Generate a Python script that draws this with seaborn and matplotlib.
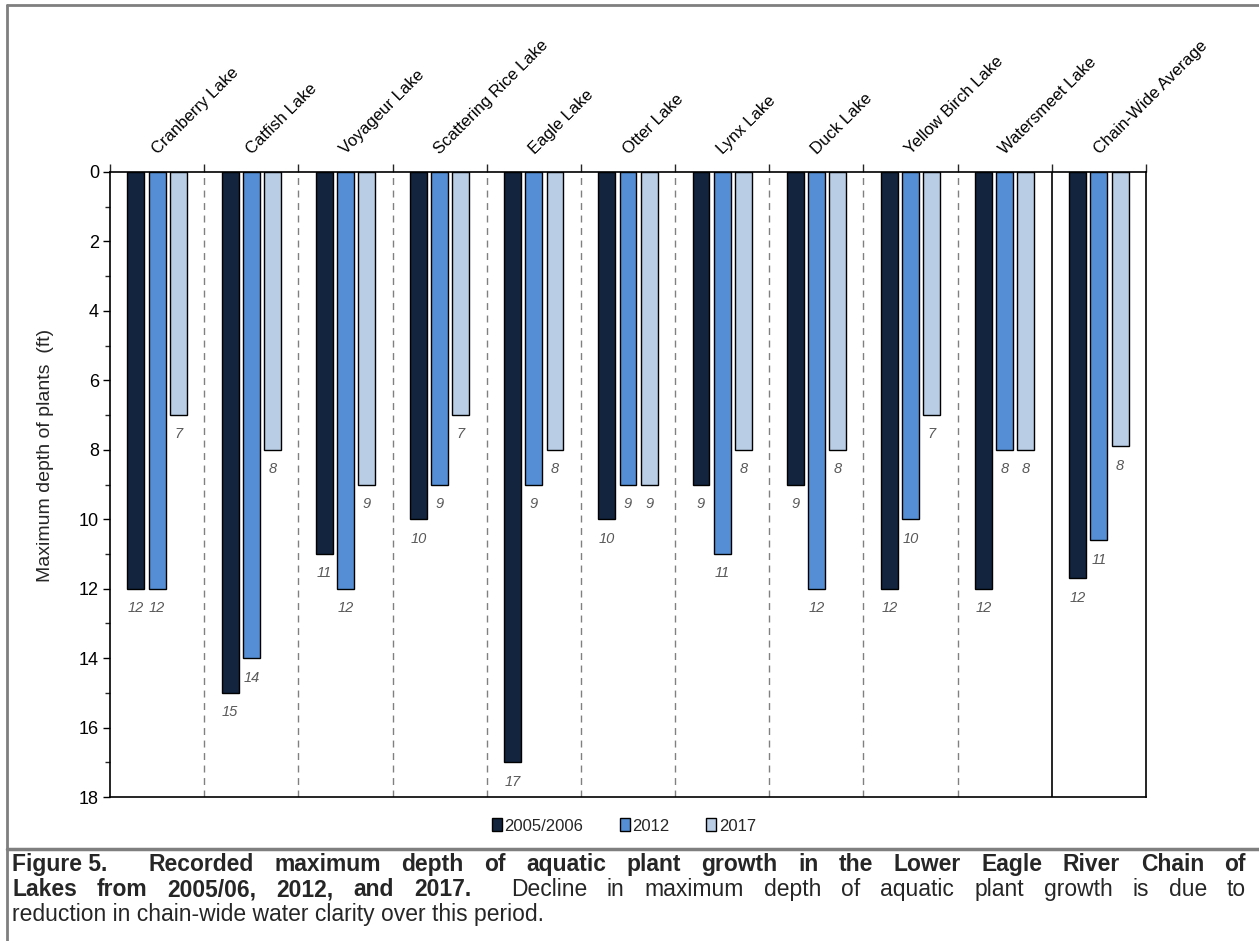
import matplotlib
matplotlib.use("Agg")
import matplotlib.pyplot as plt
import matplotlib.patches as mpatches
from matplotlib.lines import Line2D
from matplotlib.ticker import MultipleLocator, FixedLocator
import seaborn as sns
import pandas as pd

# ---------------- data ----------------
lakes = ["Cranberry Lake", "Catfish Lake", "Voyageur Lake", "Scattering Rice Lake",
         "Eagle Lake", "Otter Lake", "Lynx Lake", "Duck Lake", "Yellow Birch Lake",
         "Watersmeet Lake", "Chain-Wide Average"]
years = ["2005/2006", "2012", "2017"]
depth_2005 = [12, 15, 11, 10, 17, 10, 9, 9, 12, 12, 11.7]
depth_2012 = [12, 14, 12, 9, 9, 9, 11, 12, 10, 8, 10.6]
depth_2017 = [7, 8, 9, 7, 8, 9, 8, 8, 7, 8, 7.9]
colors = ["#12243E", "#558ED5", "#B9CDE5"]

y_ticks = [0, 2, 4, 6, 8, 10, 12, 14, 16, 18]
y_label = "Maximum depth of plants  (ft)"
cap_line1 = [("Figure 5.", "bold"), ("", "bold"), ("Recorded", "bold"), ("maximum", "bold"),
             ("depth", "bold"), ("of", "bold"), ("aquatic", "bold"), ("plant", "bold"),
             ("growth", "bold"), ("in", "bold"), ("the", "bold"), ("Lower", "bold"),
             ("Eagle", "bold"), ("River", "bold"), ("Chain", "bold"), ("of", "bold")]
cap_line2 = [("Lakes", "bold"), ("from", "bold"), ("2005/06,", "bold"), ("2012,", "bold"),
             ("and", "bold"), ("2017.", "bold"), ("", "normal"), ("Decline", "normal"),
             ("in", "normal"), ("maximum", "normal"), ("depth", "normal"), ("of", "normal"),
             ("aquatic", "normal"), ("plant", "normal"), ("growth", "normal"),
             ("is", "normal"), ("due", "normal"), ("to", "normal")]
cap_line3 = "reduction in chain-wide water clarity over this period."

df = pd.DataFrame({
    "lake": lakes * 3,
    "year": [years[0]] * len(lakes) + [years[1]] * len(lakes) + [years[2]] * len(lakes),
    "depth": depth_2005 + depth_2012 + depth_2017,
})

# ---------------- figure ----------------
sns.set_style("white")
plt.rcParams["font.family"] = ["Liberation Sans", "DejaVu Sans"]

W, H = 1259, 941
fig = plt.figure(figsize=(W / 100, H / 100), dpi=100)
ax = fig.add_axes([110 / W, 1 - 797 / H, (1146 - 110) / W, (797 - 172) / H])

sns.barplot(data=df, x="lake", y="depth", hue="year", hue_order=years, order=lakes,
            palette=colors, width=0.675, gap=0.2, edgecolor="black", linewidth=1,
            saturation=1, legend=False, ax=ax)

ax.set_xlim(-0.5, len(lakes) - 0.5)
ax.set_ylim(18, 0)
ax.set_xlabel("")
ax.set_ylabel("")

# y axis ticks
ax.yaxis.set_major_locator(FixedLocator(y_ticks))
ax.yaxis.set_minor_locator(MultipleLocator(1))
ax.tick_params(axis="y", which="major", direction="out", length=5, width=1,
               labelsize=13, pad=3, left=True, colors="black")
ax.tick_params(axis="y", which="minor", direction="out", length=3.5, width=1, left=True)

# x axis: boundary ticks on top, no labels
ax.xaxis.set_major_locator(FixedLocator([i - 0.5 for i in range(len(lakes) + 1)]))
ax.tick_params(axis="x", which="major", top=True, bottom=False, labeltop=False,
               labelbottom=False, direction="out", length=6, width=1)
for s in ax.spines.values():
    s.set_visible(True)
    s.set_color("black")
    s.set_linewidth(1.2)

# separators
for i in range(len(lakes) - 1):
    xb = i + 0.5
    if i == len(lakes) - 2:
        ax.axvline(xb, color="black", lw=1.2, zorder=0.5)
    else:
        ax.axvline(xb, color="#808080", lw=1, ls=(0, (5, 4)), zorder=0.5)

# category labels on top
for i, name in enumerate(lakes):
    ax.annotate(name, xy=(i, 1), xycoords=("data", "axes fraction"),
                xytext=(2, 11), textcoords="offset points",
                rotation=45, ha="left", va="bottom", rotation_mode="anchor",
                fontsize=12, color="black")

# value labels
for cont in ax.containers:
    for bar in cont:
        v = bar.get_height()
        xc = bar.get_x() + bar.get_width() / 2
        ax.annotate(f"{v:.0f}", xy=(xc, v), xytext=(0, -14), textcoords="offset points",
                    ha="center", va="center", fontsize=10.5, style="italic", color="#595959")

# y label
fig.text(45 / W, 1 - 455 / H, y_label, rotation=90, ha="center", va="center", fontsize=14)

# legend
handles = [mpatches.Patch(facecolor=c, edgecolor="black", linewidth=1) for c in colors]
fig.legend(handles, years, loc="center", bbox_to_anchor=(624 / W, 1 - 826 / H), ncol=3,
           frameon=False, fontsize=12, handlelength=0.6, handleheight=0.8,
           handletextpad=0.15, columnspacing=2.2)

# border lines
fig.add_artist(Line2D([7 / W, 7 / W], [0, 1 - 5 / H], transform=fig.transFigure,
                      color="#7f7f7f", lw=2))
fig.add_artist(Line2D([7 / W, 1], [1 - 5 / H, 1 - 5 / H], transform=fig.transFigure,
                      color="#7f7f7f", lw=2))
fig.add_artist(Line2D([7 / W, 1], [1 - 849 / H, 1 - 849 / H], transform=fig.transFigure,
                      color="#7f7f7f", lw=2.5))

# caption (justified)
CAP_FS = 16.5
renderer = fig.canvas.get_renderer()


def text_w(s, weight):
    t = fig.text(0, 0, s, fontsize=CAP_FS, fontweight=weight)
    w = t.get_window_extent(renderer=renderer).width
    t.remove()
    return w


def justify(tokens, y_px, x0=12, x1=1246):
    widths = [text_w(w, wt) if w else 0 for w, wt in tokens]
    gap = (x1 - x0 - sum(widths)) / (len(tokens) - 1)
    x = x0
    for (w, wt), wd in zip(tokens, widths):
        if w:
            fig.text(x / W, 1 - y_px / H, w, fontsize=CAP_FS, fontweight=wt,
                     ha="left", va="baseline")
        x += wd + gap


justify(cap_line1, 871)
justify(cap_line2, 896)
fig.text(12 / W, 1 - 921 / H, cap_line3, fontsize=CAP_FS, ha="left", va="baseline")

fig.savefig("out.png", dpi=100)
